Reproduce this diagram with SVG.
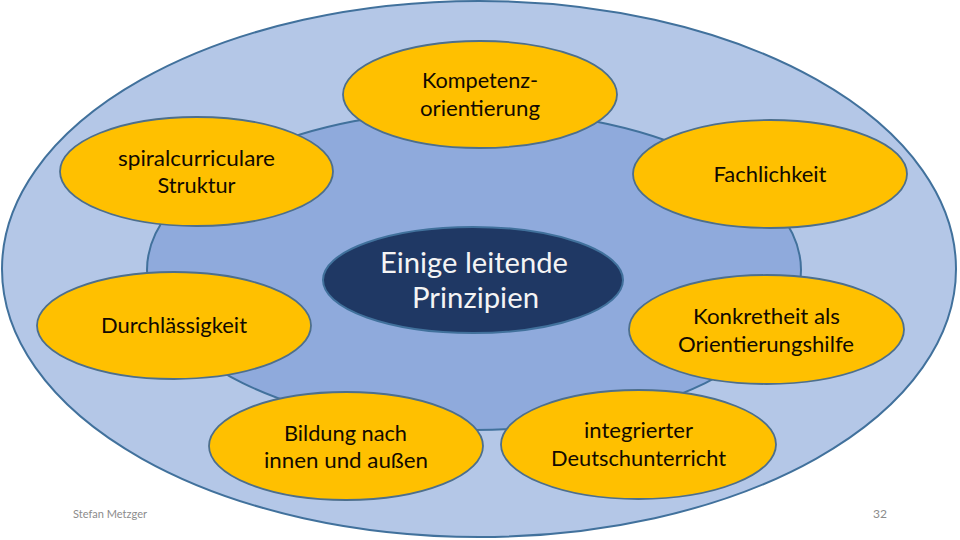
<svg xmlns="http://www.w3.org/2000/svg" width="960" height="540" viewBox="0 0 960 540">
  <style>
    .ring { stroke: #41719c; stroke-width: 2; }
    .node { fill: #ffc000; stroke: #4d6f8c; stroke-width: 1.8; }
    .lbl { font-family: Lato, "Open Sans", "Liberation Sans", sans-serif; font-size: 22px; fill: #120a00; text-anchor: middle; }
    .ctr { font-family: Lato, "Open Sans", "Liberation Sans", sans-serif; font-size: 29px; fill: #f4f4f4; text-anchor: middle; }
    .foot { font-family: Lato, "Open Sans", "Liberation Sans", sans-serif; font-size: 11px; fill: #8c8c8c; }
  </style>
  <rect width="960" height="540" fill="#ffffff"/>
  <g id="background">
    <ellipse class="ring" cx="479" cy="269" rx="477" ry="268" fill="#b4c7e7"/>
    <ellipse class="ring" cx="474" cy="270" rx="327" ry="160" fill="#8faadc"/>
  </g>
  <g id="connectors"></g>
  <g id="center">
    <ellipse cx="473" cy="280" rx="150" ry="53" fill="#1f3864" stroke="#41719c" stroke-width="2"/>
    <text class="ctr" x="474" y="273" textLength="188" lengthAdjust="spacingAndGlyphs">Einige leitende</text>
    <text class="ctr" x="475.5" y="308" textLength="127" lengthAdjust="spacingAndGlyphs">Prinzipien</text>
  </g>
  <g id="kompetenz">
    <ellipse class="node" cx="480" cy="94.5" rx="137" ry="53.5"/>
    <text class="lbl" x="480" y="88" textLength="116" lengthAdjust="spacingAndGlyphs">Kompetenz-</text>
    <text class="lbl" x="480" y="116" textLength="120" lengthAdjust="spacingAndGlyphs">orientierung</text>
  </g>
  <g id="spiral">
    <ellipse class="node" cx="196.5" cy="171.5" rx="136.5" ry="54.5"/>
    <text class="lbl" x="196.5" y="166" textLength="157" lengthAdjust="spacingAndGlyphs">spiralcurriculare</text>
    <text class="lbl" x="196.5" y="193" textLength="78" lengthAdjust="spacingAndGlyphs">Struktur</text>
  </g>
  <g id="fachlichkeit">
    <ellipse class="node" cx="770" cy="174" rx="137" ry="54"/>
    <text class="lbl" x="770" y="182" textLength="113" lengthAdjust="spacingAndGlyphs">Fachlichkeit</text>
  </g>
  <g id="durchlaessigkeit">
    <ellipse class="node" cx="174" cy="325.5" rx="137" ry="53.5"/>
    <text class="lbl" x="174" y="333" textLength="146" lengthAdjust="spacingAndGlyphs">Durchlässigkeit</text>
  </g>
  <g id="konkretheit">
    <ellipse class="node" cx="766.5" cy="329.5" rx="137.5" ry="54.5"/>
    <text class="lbl" x="766.5" y="324" textLength="147" lengthAdjust="spacingAndGlyphs">Konkretheit als</text>
    <text class="lbl" x="766" y="352" textLength="176" lengthAdjust="spacingAndGlyphs">Orientierungshilfe</text>
  </g>
  <g id="bildung">
    <ellipse class="node" cx="346" cy="446" rx="137" ry="54"/>
    <text class="lbl" x="345.5" y="441" textLength="123" lengthAdjust="spacingAndGlyphs">Bildung nach</text>
    <text class="lbl" x="346" y="468" textLength="164" lengthAdjust="spacingAndGlyphs">innen und außen</text>
  </g>
  <g id="deutschunterricht">
    <ellipse class="node" cx="638.5" cy="444.5" rx="137.5" ry="54.5"/>
    <text class="lbl" x="638.5" y="438" textLength="109" lengthAdjust="spacingAndGlyphs">integrierter</text>
    <text class="lbl" x="638.5" y="466" textLength="175" lengthAdjust="spacingAndGlyphs">Deutschunterricht</text>
  </g>
  <g id="footer">
    <text class="foot" x="73" y="518" textLength="74" lengthAdjust="spacingAndGlyphs">Stefan Metzger</text>
    <text class="foot" x="873" y="518" textLength="14" lengthAdjust="spacingAndGlyphs">32</text>
  </g>
</svg>
